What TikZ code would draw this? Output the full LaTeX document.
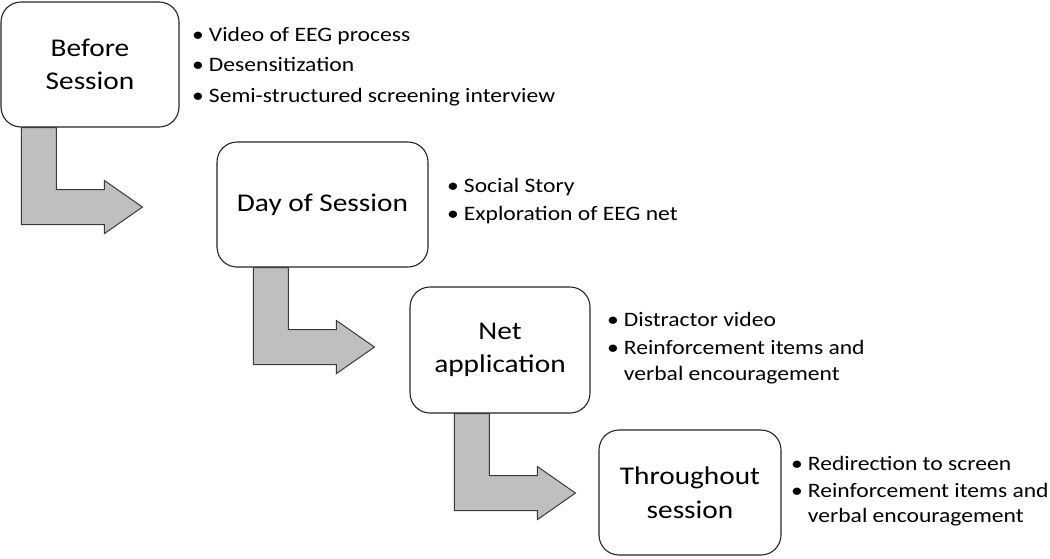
\documentclass[tikz,border=0pt]{standalone}
\usepackage{fontspec}
\setmainfont{Carlito}[FakeStretch=1.15]

\definecolor{arrowgray}{HTML}{BFBFBF}
\definecolor{edgegray}{HTML}{3A3A3A}

\tikzset{
  stage/.style={draw=black!85,line width=1.1pt,rounded corners=20pt,fill=white,
    align=center,inner sep=0pt,font={\fontsize{25.5}{33.5}\selectfont}},
  notes/.style={anchor=base west,inner sep=0pt,font={\fontsize{20.5}{25.5}\selectfont}},
  bentarrow/.pic={
    \draw[draw=edgegray,fill=arrowgray,line width=1pt]
      (0,0) -- (0,97) -- (83,97) -- (83,106) -- (121,79.5) -- (83,53)
      -- (83,62) -- (35,62) -- (35,0) -- cycle;
  }
}

\begin{document}
\begin{tikzpicture}[x=1pt,y=-1pt]
    \useasboundingbox (0,0) rectangle (1050,558);

    \node[stage,minimum width=178pt,minimum height=125pt] (before) at (90,64.5) {Before\\Session};
    \node[stage,minimum width=211pt,minimum height=125pt] (day) at (322.5,204.5) {Day of Session};
    \node[stage,minimum width=180pt,minimum height=126pt] (net) at (500,350) {Net\\application};
    \node[stage,minimum width=182pt,minimum height=125pt] (through) at (690,492.5) {Throughout\\session};

    \pic at ([xshift=21pt]before.south west) {bentarrow};
    \pic at ([xshift=37pt]day.south west) {bentarrow};
    \pic at ([xshift=45pt]net.south west) {bentarrow};

    \node[notes] (beforenotes) at (192,41) {\begin{tabular}[t]{@{}l@{\hspace{5pt}}l@{}}
      \textbullet & Video of EEG process\\[5pt]
      \textbullet & Desensitization\\[5pt]
      \textbullet & Semi-structured screening interview
    \end{tabular}};
    \node[notes] (daynotes) at (447,192) {\begin{tabular}[t]{@{}l@{\hspace{5pt}}l@{}}
      \textbullet & Social Story\\[2.5pt]
      \textbullet & Exploration of EEG net
    \end{tabular}};
    \node[notes] (netnotes) at (607,326) {\begin{tabular}[t]{@{}l@{\hspace{5pt}}l@{}}
      \textbullet & Distractor video\\[3pt]
      \textbullet & Reinforcement items and\\
                  & verbal encouragement
    \end{tabular}};
    \node[notes] (throughnotes) at (791,470) {\begin{tabular}[t]{@{}l@{\hspace{5pt}}l@{}}
      \textbullet & Redirection to screen\\[1.5pt]
      \textbullet & Reinforcement items and\\
                  & verbal encouragement
    \end{tabular}};
\end{tikzpicture}
\end{document}
